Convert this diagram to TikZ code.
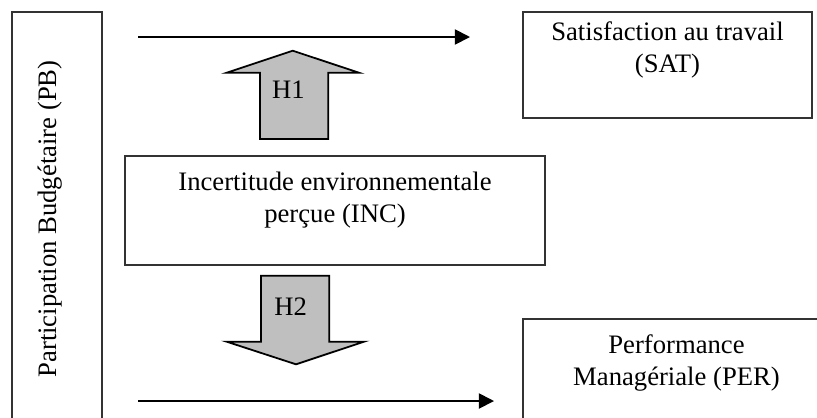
\documentclass[tikz,border=0pt]{standalone}
\usepackage{fontspec}
\setmainfont{Liberation Serif}
\usetikzlibrary{positioning}
\usetikzlibrary{fit}
\usetikzlibrary{arrows.meta}

\tikzset{
  boite/.style={draw=black!80,line width=0.6pt,inner sep=0pt},
  texte/.style={align=center,inner sep=0pt,font=\fontsize{12}{14.4}\selectfont},
  lien/.style={line width=0.8pt,-{Triangle[length=6.8pt,width=6.8pt]}},
  bloc/.style={draw,line width=0.8pt,fill=black!25,line join=miter}
}

\begin{document}
\begin{tikzpicture}[x=0.45pt,y=-0.45pt]
  \useasboundingbox (0,0) rectangle (817,417);
  % les boites
  \node[boite,fit={(12,12) (102,440)}] (pb) {};
  \node[boite,fit={(523,12) (812,118)}] (sat) {};
  \node[boite,fit={(125,156) (545,265)}] (inc) {};
  \node[boite,fit={(523,319) (830,440)}] (per) {};
  \node[texte,rotate=90,anchor=base] (tpb) at (56.5,219) {Participation Budgétaire (PB)};
  \node[texte,below=4.5pt of sat.north] (tsat) {Satisfaction au travail\\(SAT)};
  \node[texte,below=7.3pt of inc.north] (tinc) {Incertitude environnementale\\perçue (INC)};
  \node[texte,below=7.3pt of per.north] (tper) {Performance\\Managériale (PER)};
  % les liens
  \coordinate (d1) at (138,37);
  \coordinate (f1) at (470,37);
  \draw[lien] (d1) -- (f1);
  \coordinate (d2) at (138,401);
  \coordinate (f2) at (494,401);
  \draw[lien] (d2) -- (f2);
  % H1 et H2
  \filldraw[bloc] (260,139) -- (260,72.7) -- (226.7,72.7) -- (292.7,50.7) -- (359,72.7) -- (328.3,72.7) -- (328.3,139) -- cycle;
  \node[texte] (h1) at (288.3,89.7) {H1};
  \filldraw[bloc] (261,275.7) -- (329.3,275.7) -- (329.3,341.7) -- (364,341.7) -- (296,364.3) -- (226.7,341.7) -- (261,341.7) -- cycle;
  \node[texte] (h2) at (290.7,306.7) {H2};
\end{tikzpicture}
\end{document}
